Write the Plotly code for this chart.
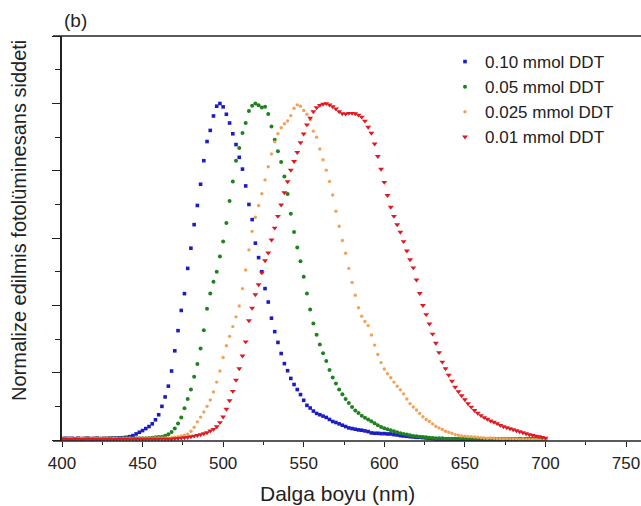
import plotly.graph_objects as go

# ---------------- data ----------------
wavelength = list(range(400, 701, 2))  # nm

blue_010 = [
    .004, .005, .004, .005, .004, .005, .004, .005, .005, .004, .005, .005, .004, .005, .005, .005, .006, .006, .006, .007,
    .008, .010, .013, .018, .023, .028, .034, .040, .048, .060, .075, .100, .128, .160, .205, .265, .325, .385, .435, .510,
    .570, .640, .697, .760, .830, .887, .920, .963, .992, 1.0,
    .990, .968, .942, .910, .878, .840, .805, .755, .700, .655, .585, .542, .500, .450, .410, .362, .322, .290, .257, .227,
    .206, .183, .165, .150, .135, .118, .103, .095, .086, .079,
    .075, .071, .067, .061, .055, .052, .048, .044, .040, .036, .034, .032, .030, .029, .027, .025, .021, .020, .020, .019,
    .019, .018, .018, .016, .015, .013, .012, .011, .010, .009,
    .008, .008, .007, .006, .005, .004, .003, .003, .003, .003, .003,
    .002, .003, .002, .002, .003, .002, .002, .002, .003, .002, .002, .002, .002, .003, .002, .002, .002, .002, .002, .002,
    .002, .002, .002, .002, .002, .002, .002, .002, .002, .002,
]

green_005 = [
    .004, .004, .005, .004, .004, .005, .004, .004, .005, .004, .004, .005, .004, .005, .004, .005, .005, .004, .005, .005,
    .005, .005, .005, .005, .005, .005, .005, .006, .007, .008, .009, .010, .013, .017, .024, .034, .049, .067, .094, .122,
    .150, .188, .226, .272, .326, .390, .435, .470, .500, .545,
    .590, .645, .710, .768, .830, .868, .912, .942, .978, .993, 1.0, .995, .988, .990, .969, .932, .892, .858, .826, .783,
    .731, .672, .618, .572, .531, .485, .435, .388, .346, .313,
    .284, .258, .235, .208, .186, .168, .150, .136, .122, .110, .098, .088, .080, .072, .066, .061, .056, .050, .044, .039,
    .035, .032, .029, .026, .023, .020, .018, .016, .014, .012,
    .011, .010, .009, .008, .007, .006, .005, .005, .005, .004, .004,
    .004, .004, .003, .004, .003, .004, .003, .003, .004, .003, .003, .003, .004, .003, .003, .003, .003, .004, .003, .003,
    .003, .003, .003, .003, .003, .003, .003, .003, .003, .003,
]

orange_0025 = [
    .005, .004, .005, .005, .004, .005, .006, .005, .004, .005, .005, .004, .005, .006, .005, .004, .005, .005, .004, .005,
    .005, .005, .004, .005, .005, .005, .005, .005, .005, .006, .006, .006, .006, .006, .007, .008, .010, .012, .014, .017,
    .026, .038, .054, .068, .083, .100, .119, .143, .172, .205,
    .245, .280, .308, .337, .366, .398, .450, .505, .565, .620, .662, .697, .732, .773, .812, .850, .886, .910, .928, .940,
    .948, .964, .986, .996, .992, .979, .968, .952, .918, .900,
    .865, .833, .802, .768, .728, .680, .635, .593, .555, .510, .468, .430, .393, .368, .352, .340, .312, .282, .254, .230,
    .211, .197, .185, .172, .160, .149, .137, .122, .108, .098,
    .089, .079, .069, .061, .055, .048, .041, .036, .031, .026,
    .023, .020, .016, .014, .012, .011, .010, .010, .009, .008,
    .007, .006, .005, .006, .005, .004, .004, .003, .004, .003,
    .003, .003, .002, .003, .002, .002, .002, .002, .002, .002, .002,
]

red_001 = [
    .003, .003, .002, .003, .003, .003, .002, .003, .003, .003, .003, .002, .003, .003, .003, .003, .002, .003, .003, .003,
    .003, .003, .003, .003, .003, .003, .003, .003, .003, .003, .003, .003, .003, .003, .003, .004, .005, .006, .007, .008,
    .010, .012, .014, .016, .019, .022, .027, .032, .040, .052,
    .069, .092, .117, .145, .178, .212, .250, .292, .355, .392, .432, .462, .497, .533, .556, .595, .630, .665, .699, .735,
    .768, .802, .828, .855, .884, .910, .937, .957, .976, .988,
    .995, .998, 1.0, .996, .991, .984, .976, .970, .969, .971, .971, .970, .966, .960, .948, .930, .912, .880, .843, .805,
    .766, .727, .692, .665, .640, .618, .590, .562, .536, .512,
    .476, .436, .400, .373, .345, .315, .288, .260, .232, .212,
    .193, .175, .157, .144, .132, .120, .108, .098, .088, .080,
    .073, .067, .062, .057, .053, .049, .044, .040, .037, .034,
    .031, .028, .025, .022, .019, .016, .014, .012, .010, .008, .006,
]

series_names = ["0.10 mmol DDT", "0.05 mmol DDT", "0.025 mmol DDT", "0.01 mmol DDT"]
x_tick_values = [400, 450, 500, 550, 600, 650, 700, 750]

# ---------------- styling ----------------
W, H = 641, 506
PLOT_L, PLOT_T, PLOT_B = 62, 36, 441
ML, MR, MT, MB = PLOT_L, 0, PLOT_T, H - PLOT_B
PW, PH = W - ML - MR, H - MT - MB
FONT = "Arial, Liberation Sans, sans-serif"
INK = "#222222"


def px_x(ref_x):
    return (ref_x - ML) / PW


def px_y(ref_y):
    return (PLOT_B - ref_y) / PH


colors = ["#1c1cc4", "#1e821e", "#f2a257", "#e01a22"]
symbols = ["square", "circle", "circle", "triangle-down"]
sizes = [3.6, 4.0, 3.4, 5.2]
series = [blue_010, green_005, orange_0025, red_001]

fig = go.Figure()
for name, ys, c, s, sz in zip(series_names, series, colors, symbols, sizes):
    fig.add_trace(go.Scatter(
        x=wavelength, y=ys, mode="markers", name=name,
        marker=dict(color=c, symbol=s, size=sz, line=dict(width=0)),
    ))

px_per_nm = 564 / 350.0
x_hi = 400 + PW / px_per_nm
px_per_unit = 336.5
y_lo = -1.0 / px_per_unit
y_hi = y_lo + PH / px_per_unit

fig.update_layout(
    width=W, height=H,
    margin=dict(l=ML, r=MR, t=MT, b=MB, pad=0),
    paper_bgcolor="white", plot_bgcolor="white",
    font=dict(family=FONT, color=INK),
    showlegend=True,
    legend=dict(
        x=px_x(445), xanchor="left",
        y=px_y(44), yanchor="top",
        font=dict(size=17, family=FONT, color=INK),
        bgcolor="rgba(0,0,0,0)", borderwidth=0,
        itemsizing="trace",
    ),
    xaxis=dict(
        range=[400, x_hi], showgrid=False, zeroline=False, showline=False,
        tickmode="array", tickvals=x_tick_values,
        ticks="outside", ticklen=5, tickwidth=1.3, tickcolor=INK,
        ticklabelstandoff=2,
        tickfont=dict(size=17, family=FONT, color=INK),
        minor=dict(dtick=25, tick0=400, ticks="outside", ticklen=3, tickwidth=1.2, tickcolor=INK),
    ),
    yaxis=dict(
        range=[y_lo, y_hi], showgrid=False, zeroline=False,
        showline=True, linecolor=INK, linewidth=1.6,
        showticklabels=False,
        tick0=0, dtick=0.2,
        ticks="outside", ticklen=8, tickwidth=1.3, tickcolor=INK,
        minor=dict(dtick=0.1, tick0=0, ticks="outside", ticklen=5, tickwidth=1.2, tickcolor=INK),
    ),
    shapes=[
        dict(type="line", xref="paper", yref="paper", x0=-9 / PW, x1=1, y0=1, y1=1,
             line=dict(color=INK, width=1.6)),
        dict(type="line", xref="paper", yref="paper", x0=-9 / PW, x1=1, y0=0, y1=0,
             line=dict(color=INK, width=1.6)),
    ],
    annotations=[
        dict(text="(b)", xref="paper", yref="paper", x=px_x(62), y=px_y(20),
             xanchor="left", yanchor="middle", showarrow=False,
             font=dict(size=19, family=FONT, color=INK)),
        dict(text="Dalga boyu (nm)", xref="paper", yref="paper",
             x=px_x(337), y=px_y(493),
             xanchor="center", yanchor="middle", showarrow=False,
             font=dict(size=21, family=FONT, color=INK)),
        dict(text="Normalize edilmis fotolüminesans siddeti", xref="paper", yref="paper",
             x=px_x(19), y=px_y(221), textangle=-90,
             xanchor="center", yanchor="middle", showarrow=False,
             font=dict(size=20, family=FONT, color=INK)),
    ],
)

fig.write_html(
    "out.html",
    config={"displayModeBar": False},
    post_script="document.body.style.margin='0';document.body.style.overflow='hidden';",
)
